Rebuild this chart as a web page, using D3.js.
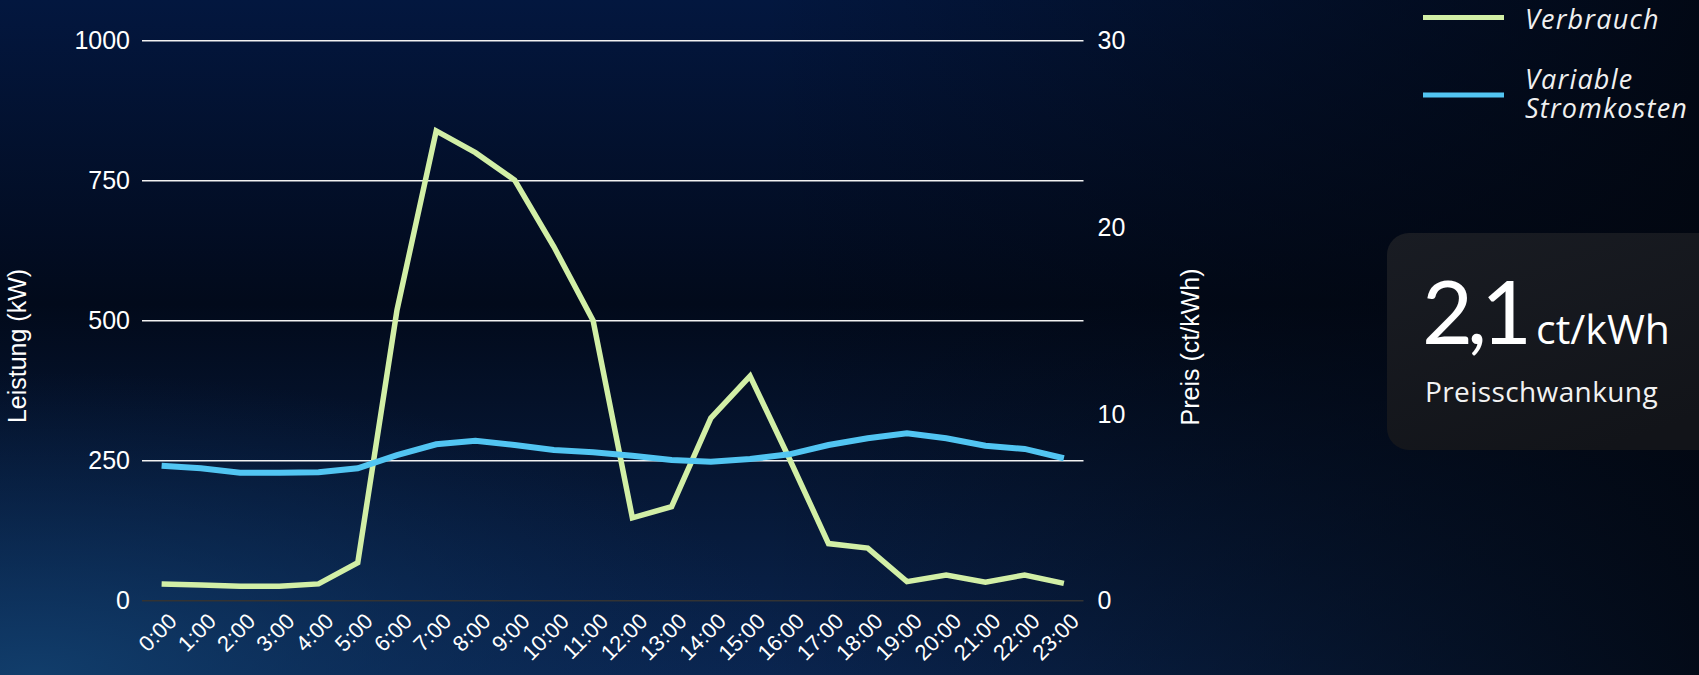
<!DOCTYPE html>
<html>
<head>
<meta charset="utf-8">
<script src="https://cdn.jsdelivr.net/npm/d3@7"></script>
<style>
  body { margin: 0; background: #020a1c; overflow: hidden; }
  svg { display: block; }
</style>
</head>
<body>
<script>
// chart data
var hours = ["0:00","1:00","2:00","3:00","4:00","5:00","6:00","7:00","8:00","9:00","10:00","11:00",
             "12:00","13:00","14:00","15:00","16:00","17:00","18:00","19:00","20:00","21:00","22:00","23:00"];
var verbrauch = [30, 28, 26, 26, 30, 68, 519, 839, 800, 751, 632, 500,
                 148, 168, 326, 401, 254, 102, 94, 34, 46, 33, 46, 31];
var stromkosten = [7.23, 7.09, 6.86, 6.86, 6.88, 7.09, 7.8, 8.38, 8.57, 8.34, 8.07, 7.95,
                   7.76, 7.54, 7.45, 7.59, 7.84, 8.34, 8.7, 8.97, 8.7, 8.3, 8.13, 7.63];
var leftTicks = [0, 250, 500, 750, 1000];
var rightTicks = [0, 10, 20, 30];
var colors = ["#d2efa6", "#52c5f2"];

var W = 1699, H = 675;
var plot = {left: 142, right: 1083.5, top: 40.7, bottom: 600.7};
var axisFont = "'Liberation Sans', Arial, sans-serif";
var cardFont = "'Open Sans', 'Noto Sans', sans-serif";

var svg = d3.select("body").append("svg")
    .attr("width", W)
    .attr("height", H);

// background
var defs = svg.append("defs");
var bg = defs.append("linearGradient").attr("id", "bg")
    .attr("x1", "0").attr("y1", "0").attr("x2", "0").attr("y2", "1");
bg.append("stop").attr("offset", "0%").attr("stop-color", "#03173f");
bg.append("stop").attr("offset", "45%").attr("stop-color", "#020a1b");
bg.append("stop").attr("offset", "100%").attr("stop-color", "#0a2550");
var dark = defs.append("linearGradient").attr("id", "dark")
    .attr("x1", "0").attr("y1", "0").attr("x2", "1").attr("y2", "0");
dark.append("stop").attr("offset", "45%").attr("stop-color", "#02060e").attr("stop-opacity", 0);
dark.append("stop").attr("offset", "100%").attr("stop-color", "#02060e").attr("stop-opacity", 0.85);
var glow = defs.append("radialGradient").attr("id", "glow")
    .attr("cx", "0.02").attr("cy", "1").attr("r", "0.45");
glow.append("stop").attr("offset", "0%").attr("stop-color", "#12406e").attr("stop-opacity", 0.9);
glow.append("stop").attr("offset", "100%").attr("stop-color", "#0a2a55").attr("stop-opacity", 0);
var card = defs.append("linearGradient").attr("id", "card")
    .attr("x1", "0").attr("y1", "0").attr("x2", "0.6").attr("y2", "1");
card.append("stop").attr("offset", "0%").attr("stop-color", "#191c23");
card.append("stop").attr("offset", "100%").attr("stop-color", "#121419");

svg.append("rect").attr("width", W).attr("height", H).attr("fill", "url(#bg)");
svg.append("rect").attr("width", W).attr("height", H).attr("fill", "url(#dark)");
svg.append("rect").attr("width", W).attr("height", H).attr("fill", "url(#glow)");

// scales
var x = d3.scalePoint()
    .domain(hours)
    .range([plot.left, plot.right])
    .padding(0.5);
var yL = d3.scaleLinear().domain([0, 1000]).range([plot.bottom, plot.top]);
var yR = d3.scaleLinear().domain([0, 30]).range([plot.bottom, plot.top]);

// gridlines
svg.append("g").selectAll("line")
    .data(leftTicks)
    .enter().append("line")
    .attr("x1", plot.left).attr("x2", plot.right)
    .attr("y1", function(d) { return yL(d); })
    .attr("y2", function(d) { return yL(d); })
    .attr("stroke", function(d) { return d === 0 ? "#333333" : "#f2f2f2"; })
    .attr("stroke-width", function(d) { return d === 0 ? 1.5 : 1.4; });

// left axis
var axL = svg.append("g")
    .attr("transform", "translate(" + plot.left + ",0)")
    .call(d3.axisLeft(yL).tickValues(leftTicks).tickSize(0).tickPadding(12).tickFormat(d3.format("d")));
axL.select(".domain").remove();
axL.selectAll("text")
    .attr("fill", "#ffffff")
    .style("font-family", axisFont)
    .style("font-size", "25px");

// right axis
var axR = svg.append("g")
    .attr("transform", "translate(" + plot.right + ",0)")
    .call(d3.axisRight(yR).tickValues(rightTicks).tickSize(0).tickPadding(14));
axR.select(".domain").remove();
axR.selectAll("text")
    .attr("fill", "#ffffff")
    .style("font-family", axisFont)
    .style("font-size", "25px");

// x axis
var axX = svg.append("g")
    .attr("transform", "translate(0," + plot.bottom + ")")
    .call(d3.axisBottom(x).tickSize(0).tickPadding(0));
axX.select(".domain").remove();
axX.selectAll("text")
    .attr("fill", "#ffffff")
    .style("font-family", axisFont)
    .style("font-size", "22px")
    .attr("text-anchor", "end")
    .attr("dy", null)
    .attr("y", 0)
    .attr("transform", "translate(16,22) rotate(-45)");

// axis titles
svg.append("text")
    .attr("transform", "translate(26,346) rotate(-90)")
    .attr("text-anchor", "middle")
    .attr("fill", "#ffffff")
    .style("font-family", axisFont)
    .style("font-size", "25px")
    .text("Leistung (kW)");
svg.append("text")
    .attr("transform", "translate(1199,347) rotate(-90)")
    .attr("text-anchor", "middle")
    .attr("fill", "#ffffff")
    .style("font-family", axisFont)
    .style("font-size", "25px")
    .text("Preis (ct/kWh)");

// lines
var lineL = d3.line()
    .x(function(d, i) { return x(hours[i]); })
    .y(function(d) { return yL(d); });
var lineR = d3.line()
    .x(function(d, i) { return x(hours[i]); })
    .y(function(d) { return yR(d); });

svg.append("path")
    .datum(verbrauch)
    .attr("d", lineL)
    .attr("fill", "none")
    .attr("stroke", colors[0])
    .attr("stroke-width", 5.5);
svg.append("path")
    .datum(stromkosten)
    .attr("d", lineR)
    .attr("fill", "none")
    .attr("stroke", colors[1])
    .attr("stroke-width", 6);

// legend
var legend = svg.append("g");
var legendRows = [
  {y: 17.5, lines: [["Verbrauch", 29]]},
  {y: 95, lines: [["Variable", 89], ["Stromkosten", 118]]}
];
legendRows.forEach(function(r, i) {
  legend.append("line")
      .attr("x1", 1423).attr("x2", 1504)
      .attr("y1", r.y).attr("y2", r.y)
      .attr("stroke", colors[i])
      .attr("stroke-width", 5);
  r.lines.forEach(function(l) {
    legend.append("text")
        .attr("x", 1525)
        .attr("y", l[1])
        .attr("fill", "#f0f0f0")
        .style("font-family", cardFont)
        .style("font-style", "italic")
        .style("font-size", "27px")
        .style("letter-spacing", "1.2px")
        .text(l[0]);
  });
});

// info card
svg.append("rect")
    .attr("x", 1387).attr("y", 233)
    .attr("width", 360).attr("height", 217)
    .attr("rx", 22)
    .attr("fill", "url(#card)");
var big = svg.append("text")
    .attr("x", 1422).attr("y", 344)
    .attr("fill", "#ffffff")
    .style("font-family", "Lato, 'Noto Sans', sans-serif");
big.append("tspan")
    .style("font-size", "88px")
    .style("letter-spacing", "-6px")
    .text("2,1");
big.append("tspan")
    .attr("dx", 10)
    .style("font-family", cardFont)
    .style("font-size", "41px")
    .text("ct/kWh");
svg.append("text")
    .attr("x", 1425).attr("y", 402)
    .attr("fill", "#f2f2f2")
    .style("font-family", cardFont)
    .style("font-size", "28px")
    .style("letter-spacing", "0.4px")
    .text("Preisschwankung");
</script>
</body>
</html>
